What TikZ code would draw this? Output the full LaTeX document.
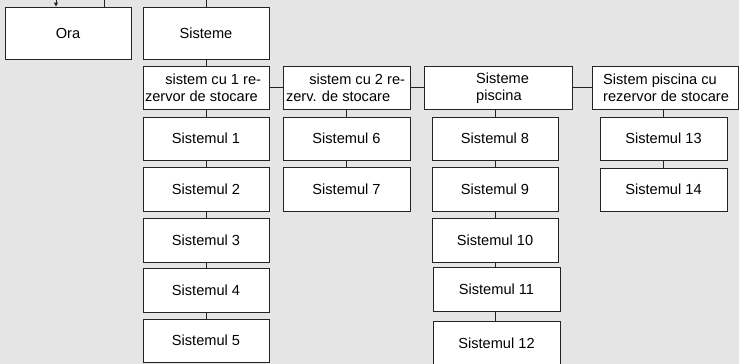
\documentclass[tikz,border=0pt]{standalone}
\usepackage{fontspec}
\setmainfont{Liberation Sans}
\usetikzlibrary{arrows.meta}
\definecolor{bg}{RGB}{229,229,229}
\definecolor{ink}{RGB}{35,35,35}
\tikzset{
  box/.style={draw=ink, fill=white, line width=1pt, inner sep=0pt,
    minimum width=126pt, minimum height=44pt, font=\fontsize{14.6}{16.5}\selectfont},
  link/.style={draw=ink, line width=1pt},
}
\begin{document}
\begin{tikzpicture}[x=1pt, y=-1pt]
  \fill[bg] (0,0) rectangle (739,364);
  \useasboundingbox (0,0) rectangle (739,364);

  % top row
  \node[box, minimum height=52pt] (ora) at (68,33) {Ora};
  \node[box, minimum height=52pt] (sist) at (206,33) {Sisteme};

  % group headers
  \node[box, minimum height=43pt] (g1) at (206,87.5) {};
  \node[anchor=center, inner sep=0pt, text width=116pt, align=flush left,
    font=\fontsize{14.6}{16.5}\selectfont] (g1t) at (203,88)
    {\hfill sistem cu 1 re-\\zervor de stocare};
  \node[box, minimum width=127pt, minimum height=43pt] (g2) at (346.5,87.5) {};
  \node[anchor=center, inner sep=0pt, text width=119pt, align=flush left,
    font=\fontsize{14.6}{16.5}\selectfont] (g2t) at (345.5,88)
    {\hfill sistem cu 2 re-\\zerv. de stocare};
  \node[box, minimum width=148pt, minimum height=43pt] (g3) at (498,87.5) {};
  \node[anchor=west, inner sep=0pt, align=left,
    font=\fontsize{14.6}{16.5}\selectfont] (g3t) at (476,88)
    {Sisteme\\piscina};
  \node[box, minimum width=146pt, minimum height=43pt] (g4) at (665,87.5) {};
  \node[anchor=west, inner sep=0pt, align=left,
    font=\fontsize{14.6}{16.5}\selectfont] (g4t) at (603,88)
    {Sistem piscina cu\\rezervor de stocare};

  % column 1
  \node[box, minimum height=43pt] (s1) at (206,138.5) {Sistemul 1};
  \node[box] (s2) at (206,189) {Sistemul 2};
  \node[box] (s3) at (206,240) {Sistemul 3};
  \node[box] (s4) at (206,290) {Sistemul 4};
  \node[box, minimum height=43pt] (s5) at (206,340.5) {Sistemul 5};

  % column 2
  \node[box, minimum width=127pt, minimum height=43pt] (s6) at (346.5,138.5) {Sistemul 6};
  \node[box, minimum width=127pt] (s7) at (346.5,189) {Sistemul 7};

  % column 3
  \node[box, minimum height=43pt] (s8) at (495,138.5) {Sistemul 8};
  \node[box] (s9) at (495,189) {Sistemul 9};
  \node[box] (s10) at (495,240) {Sistemul 10};
  \node[box, minimum width=127pt] (s11) at (496.5,289) {Sistemul 11};
  \node[box, minimum width=127pt] (s12) at (496.5,343) {Sistemul 12};

  % column 4
  \node[box, minimum width=127pt, minimum height=43pt] (s13) at (663.5,138.5) {Sistemul 13};
  \node[box, minimum width=127pt, minimum height=43pt] (s14) at (663.5,189.5) {Sistemul 14};

  % lines entering from above
  \coordinate (inA) at (56,-2);
  \coordinate (inB) at (104,0);
  \coordinate (inC) at (206,0);
  \draw[link, -{Triangle[length=4pt,width=4pt]}] (inA) -- (inA |- ora.north);
  \draw[link] (inB) -- (inB |- ora.north);
  \draw[link] (inC) -- (sist.north);

  % vertical chains
  \draw[link] (sist.south) -- (g1.north);
  \draw[link] (g1.south) -- (s1.north);
  \draw[link] (s1.south) -- (s2.north);
  \draw[link] (s2.south) -- (s3.north);
  \draw[link] (s3.south) -- (s4.north);
  \draw[link] (s4.south) -- (s5.north);
  \draw[link] (g2.south) -- (s6.north);
  \draw[link] (s6.south) -- (s7.north);
  \draw[link] (s8.north |- g3.south) -- (s8.north);
  \draw[link] (s8.south) -- (s9.north);
  \draw[link] (s9.south) -- (s10.north);
  \draw[link] (s10.south) -- (s10.south |- s11.north);
  \draw[link] (s10.south |- s11.south) -- (s10.south |- s12.north);
  \draw[link] (s13.north |- g4.south) -- (s13.north);
  \draw[link] (s13.south) -- (s14.north);

  % horizontal links between group headers
  \draw[link] (g1.east) -- (g2.west);
  \draw[link] (g2.east) -- (g3.west);
  \draw[link] (g3.east) -- (g4.west);
\end{tikzpicture}
\end{document}
